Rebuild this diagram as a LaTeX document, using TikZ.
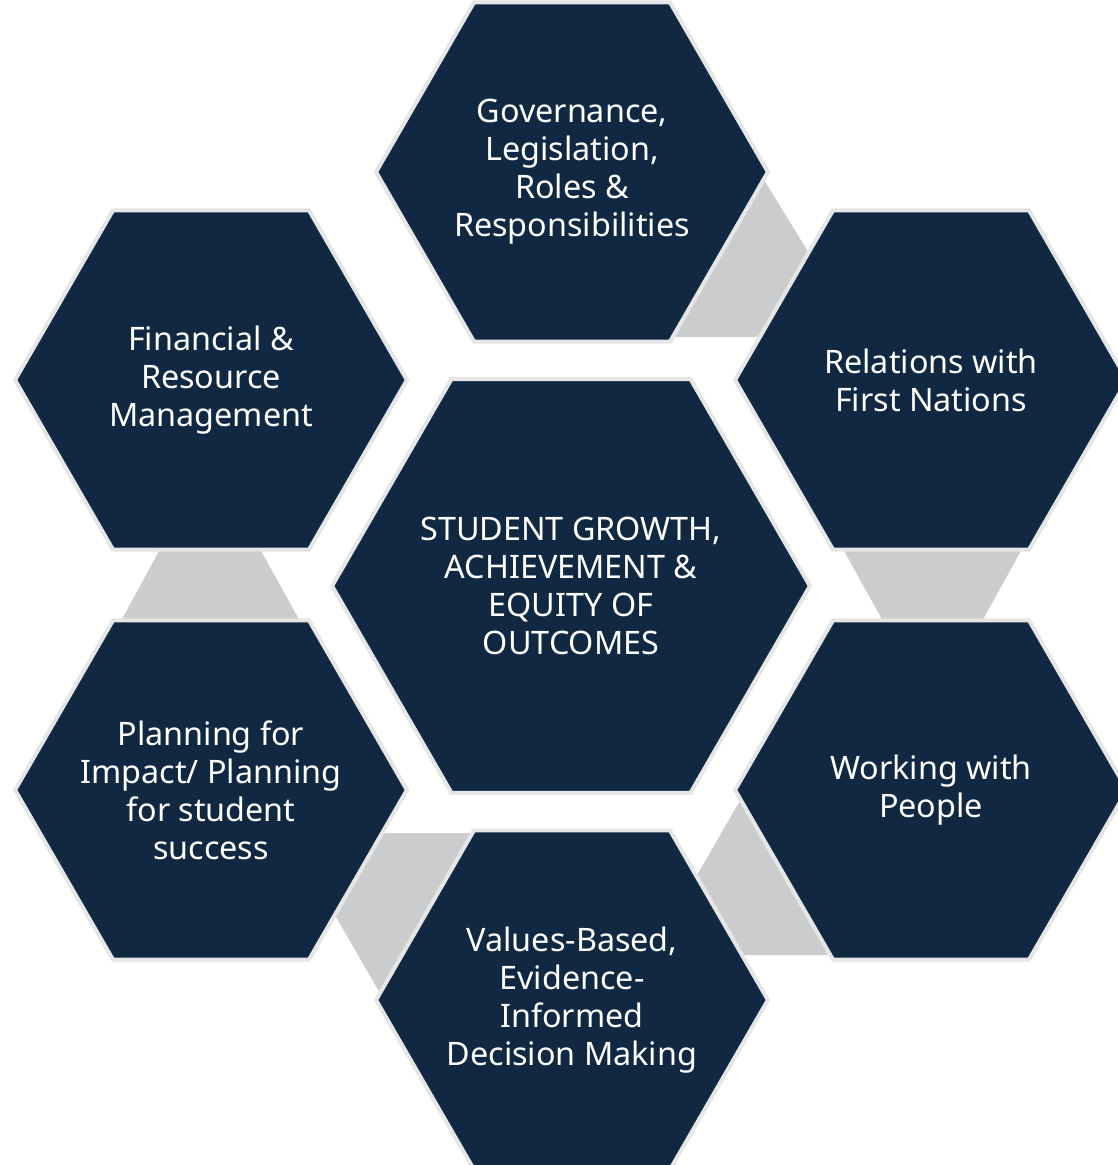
\documentclass[tikz,border=0pt]{standalone}
\usepackage{fontspec}
\setmainfont{Noto Sans}
\usetikzlibrary{shapes.geometric}
\usetikzlibrary{backgrounds}
\definecolor{navy}{HTML}{102842}
\definecolor{rim}{HTML}{E6E6E6}
\definecolor{band}{HTML}{CBCCCE}

\begin{document}
\begin{tikzpicture}[x=0.02cm,y=-0.02cm,
	hexa/.style={regular polygon,regular polygon sides=6,minimum size=7.84cm,inner sep=0pt,
		fill=navy,draw=rim,line width=2.3pt},
	bighexa/.style={hexa,minimum size=9.56cm},
	txt/.style={text=white,align=center,inner sep=0pt,font=\fontsize{18.4}{21.6}\selectfont}]
\useasboundingbox (0,0) rectangle (1117,1165);

	\node[bighexa] (core) at (571,586) {};

	\node[hexa] (gov) at (572,172) {};
	\node[hexa] (fin) at (211,380) {};
	\node[hexa] (rel) at (931,380) {};
	\node[hexa] (plan) at (211,790) {};
	\node[hexa] (work) at (931,790) {};
	\node[hexa] (val) at (572,1000) {};

	\node[txt] (core-t) at (core) {STUDENT GROWTH,\\ACHIEVEMENT \&\\EQUITY OF\\OUTCOMES};
	\node[txt] (gov-t) at (gov) {Governance,\\Legislation,\\Roles \&\\Responsibilities};
	\node[txt] (fin-t) at (fin) {Financial \&\\Resource\\Management};
	\node[txt] (rel-t) at (rel) {Relations with\\First Nations};
	\node[txt] (plan-t) at (plan) {Planning for\\Impact/ Planning\\for student\\success};
	\node[txt] (work-t) at (work) {Working with\\People};
	\node[txt] (val-t) at (val) {Values-Based,\\Evidence-\\Informed\\Decision Making};

% grey bands behind the ring
\begin{scope}[on background layer]
	\fill[band] (753,162) -- (815,263) -- (768,337) -- (667,337) -- cycle; % gov-rel
	\fill[band] (838,540) -- (1027,540) -- (976,632) -- (889,632) -- cycle; % rel-work
	\fill[band] (746,790) -- (692,884) -- (737,955) -- (837,955) -- cycle; % work-val
	\fill[band] (377,833) -- (478,833) -- (384,1000) -- (332,910) -- cycle; % val-plan
	\fill[band] (165,540) -- (255,540) -- (306,632) -- (115,632) -- cycle; % plan-fin
\end{scope}

\end{tikzpicture}
\end{document}
